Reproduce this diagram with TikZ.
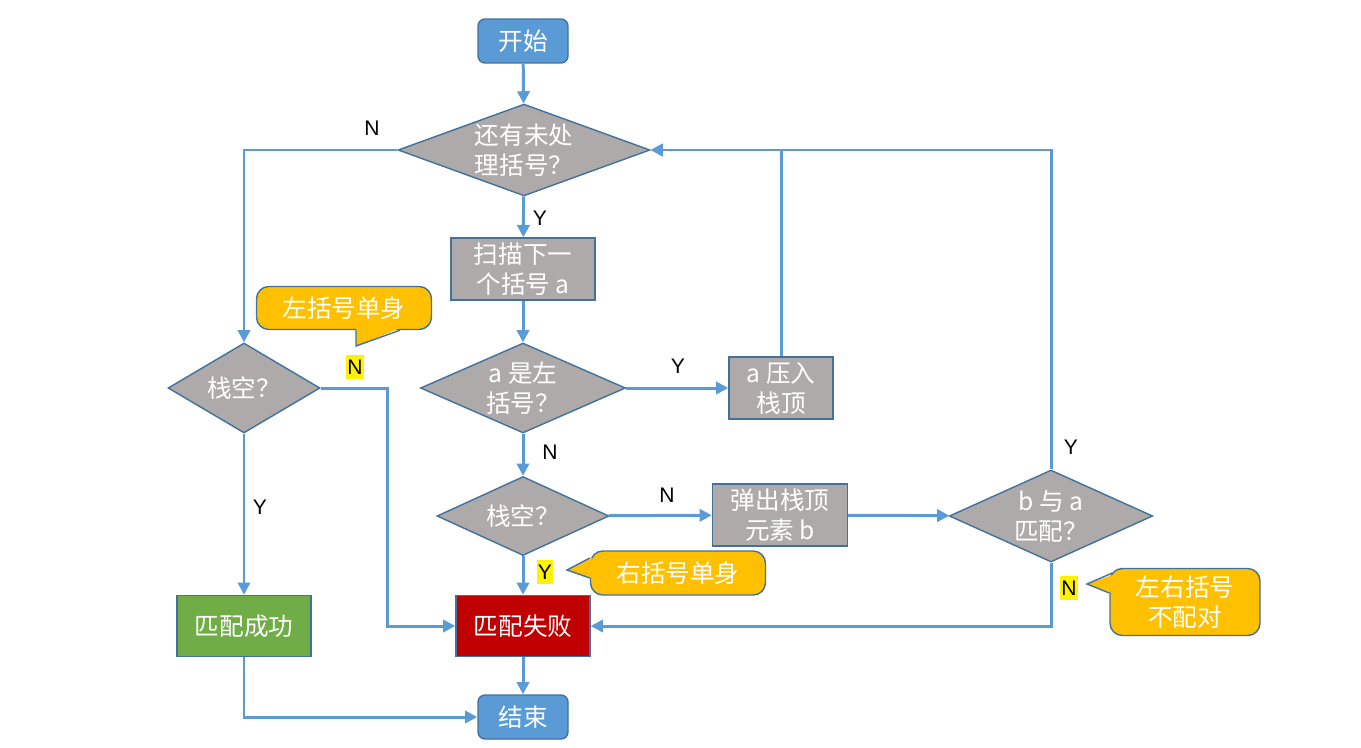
\documentclass[tikz,border=0pt]{standalone}
\usepackage{fontspec}
\setmainfont{Noto Sans CJK SC}
\newfontfamily\yn{Liberation Sans}
\usetikzlibrary{arrows.meta,shapes.geometric}

\definecolor{lineblue}{HTML}{5B9BD5}
\definecolor{edgeblue}{HTML}{41719C}
\definecolor{boxgray}{HTML}{AEAAAA}
\definecolor{failred}{HTML}{C00000}
\definecolor{okgreen}{HTML}{70AD47}
\definecolor{noteorange}{HTML}{FFC000}

\tikzset{
  base/.style={draw=edgeblue, line width=0.8pt, text=white, align=center,
    font=\fontsize{14}{17}\selectfont, inner sep=0pt},
  term/.style={base, fill=lineblue, rounded corners=4pt,
    minimum width=1.8cm, minimum height=0.88cm},
  proc/.style={base, fill=boxgray, minimum height=1.24cm},
  test/.style={base, fill=boxgray, diamond, aspect=2.5},
  note/.style={base, fill=noteorange, rounded corners=7pt},
  tipfill/.style={fill=noteorange},
  tipline/.style={draw=edgeblue, line width=0.8pt, line join=miter},
  flow/.style={draw=lineblue, line width=1.7pt,
    -{Triangle[length=7pt,width=7pt]}},
  lab/.style={font=\yn\fontsize{12}{14}\selectfont, inner sep=1pt},
  hilab/.style={lab, fill=yellow, inner xsep=0.6pt, minimum height=14pt}
}

\begin{document}
\begin{tikzpicture}[x=0.02cm, y=-0.02cm]
\useasboundingbox (0,0) rectangle (1361,747);

% Main column
\node[term] (start) at (523,41) {开始};
\node[test, minimum width=5.04cm, minimum height=1.82cm] (q1) at (524,150) {还有未处\\理括号？};
\node[proc, minimum width=2.88cm] (scan) at (523,269) {扫描下一\\个括号 a};
\node[test, minimum width=3.96cm, minimum height=1.8cm] (isleft) at (523,388) {a 是左\\括号？};
\node[test, minimum width=3.44cm, minimum height=1.58cm] (empty) at (523,516) {栈空？};
\node[base, fill=failred, minimum width=2.68cm, minimum height=1.22cm] (fail) at (523,626) {匹配失败};
\node[term] (stop) at (523,717) {结束};

% Right branch
\node[proc, minimum width=2.08cm] (push) at (781,388) {a 压入\\栈顶};
\node[proc, minimum width=2.7cm] (pop) at (780,515) {弹出栈顶\\元素 b};
\node[test, minimum width=3.96cm, minimum height=1.84cm] (match) at (1051,516) {b 与 a\\匹配？};

% Left branch
\node[test, minimum width=3.04cm, minimum height=1.8cm] (lempty) at (244,388) {栈空？};
\node[base, fill=okgreen, minimum width=2.68cm, minimum height=1.22cm] (ok) at (244,626) {匹配成功};
\coordinate (jl) at (387,388);

% Callouts
\node[note, minimum width=3.5cm, minimum height=0.86cm] (c1) at (344,308) {左括号单身};
\coordinate (t1) at (356,346);
\fill[tipfill] ([shift={(12,-2)}]c1.south) -- (t1) -- ([shift={(56,-2)}]c1.south);
\draw[tipline] ([shift={(12,0)}]c1.south) -- (t1) -- ([shift={(56,0)}]c1.south);

\node[note, minimum width=3.5cm, minimum height=0.88cm] (c2) at (678,573) {右括号单身};
\coordinate (t2) at (567,570);
\fill[tipfill] ([shift={(2,-15)}]c2.west) -- (t2) -- ([shift={(2,5)}]c2.west);
\draw[tipline] ([shift={(0,-15)}]c2.west) -- (t2) -- ([shift={(0,5)}]c2.west);

\node[note, minimum width=3cm, minimum height=1.34cm] (c3) at (1185,602) {左右括号\\不配对};
\coordinate (t3) at (1087,584);
\fill[tipfill] ([shift={(6,-28)}]c3.west) -- (t3) -- ([shift={(3,-9)}]c3.west);
\draw[tipline] ([shift={(3,-29)}]c3.west) -- (t3) -- ([shift={(0,-9)}]c3.west);

% Connectors
\draw[flow] (start) -- (q1);
\draw[flow] (q1.west) -| (lempty.north);
\draw[flow] (q1) -- (scan);
\draw[flow] (scan) -- (isleft);
\draw[flow] (isleft) -- (push);
\draw[flow] (push.north) |- (q1.east);
\draw[flow] (isleft) -- (empty);
\draw[flow] (empty) -- (pop);
\draw[flow] (pop) -- (match);
\draw[flow] (match.north) |- (q1.east);
\draw[flow] (match.south) |- (fail.east);
\draw[flow] (empty) -- (fail);
\draw[flow] (lempty.east) -- (jl) |- (fail.west);
\draw[flow] (lempty) -- (ok);
\draw[flow] (ok.south) |- (stop.west);
\draw[flow] (fail) -- (stop);

% Branch labels
\node[lab] (n1) at (372,128) {N};
\node[lab] (y1) at (540,218) {Y};
\node[lab] (y2) at (678,366) {Y};
\node[lab] (n2) at (550,452) {N};
\node[lab] (n3) at (667,495) {N};
\node[lab] (y3) at (260,507) {Y};
\node[lab] (y4) at (1071,447) {Y};
\node[hilab] (n4) at (355,367) {N};
\node[hilab] (y5) at (545,572) {Y};
\node[hilab] (n5) at (1069,588) {N};

\end{tikzpicture}
\end{document}
